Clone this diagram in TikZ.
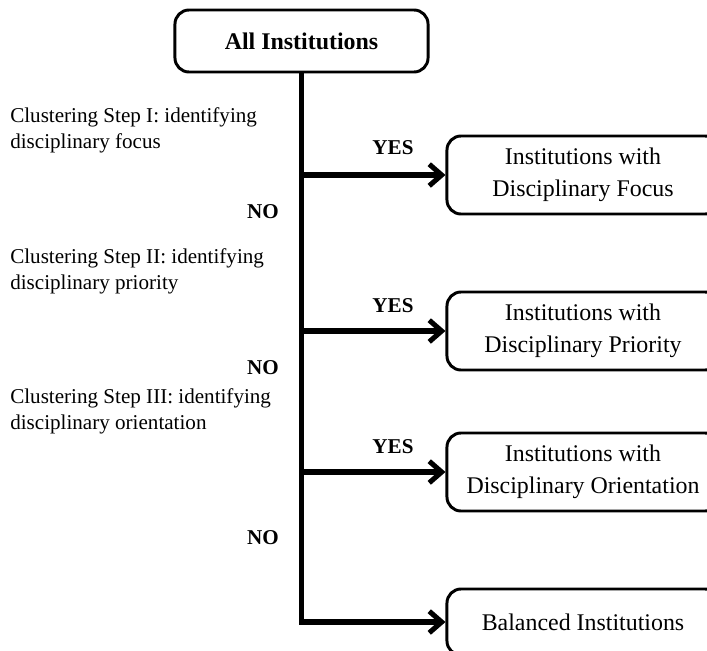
\documentclass[tikz,border=0pt]{standalone}
\usepackage{fontspec}
\setmainfont{Liberation Serif}
\usepackage{xcolor}
\usetikzlibrary{arrows.meta,positioning,calc}
\tikzset{
    % Base style for the boxes
    box base/.style={
        font=\fontsize{17}{22.7}\selectfont,
        align=center,
        text=black,
        draw=black,
        line width=2.1pt,
        rounded corners=10pt,
        inner sep=0pt,
    },
    % Top box - bold title
    rootbox/.style={
        box base,
        font=\fontsize{17}{22.7}\selectfont\bfseries,
        minimum width=6.325cm,
        minimum height=1.55cm,
    },
    % Result boxes on the right
    resultbox/.style={
        box base,
        minimum width=6.8cm,
        minimum height=1.95cm,
    },
    % Step descriptions on the left
    step note/.style={
        font=\fontsize{15}{18.5}\selectfont,
        align=left,
        anchor=west,
        inner sep=0pt,
    },
    % YES/NO labels
    edge label/.style={
        font=\fontsize{15}{18}\selectfont\bfseries,
        inner sep=0pt,
    },
    % Thick connectors with open tip
    arrow/.style={
        -{Straight Barb[length=3.1mm, width=5.4mm]},
        line width=3.6pt,
        draw=black,
    },
}
\begin{document}
\begin{tikzpicture}[x=0.025cm, y=-0.025cm]
    \useasboundingbox (0,0) rectangle (707,650);
    \clip (0,0) rectangle (707,650);

    \node (all) [rootbox] at (301.5,41) {All Institutions};
    \node (focus) [resultbox] at (583,175) {Institutions with\\Disciplinary Focus};
    \node (priority) [resultbox] at (583,331) {Institutions with\\Disciplinary Priority};
    \node (orient) [resultbox] at (583,472) {Institutions with\\Disciplinary Orientation};
    \node (balanced) [resultbox, minimum height=1.65cm] at (583,622) {Balanced Institutions};

    \node (step1) [step note] at (10,130) {Clustering Step I: identifying\\disciplinary focus};
    \node (step2) [step note] at (10,271) {Clustering Step II: identifying\\disciplinary priority};
    \node (step3) [step note] at (10,411) {Clustering Step III: identifying\\disciplinary orientation};

    \node (yes1) [edge label] at (393,148) {YES};
    \node (yes2) [edge label] at (393,306) {YES};
    \node (yes3) [edge label] at (393,447) {YES};
    \node (no1) [edge label] at (263,212) {NO};
    \node (no2) [edge label] at (263,368) {NO};
    \node (no3) [edge label] at (263,538) {NO};

    \coordinate (corner) at (all.south |- balanced.west);

    \draw [arrow] (all.south) -- (corner) -- (balanced.west);
    \draw [arrow] (all.south |- focus.west) -- (focus.west);
    \draw [arrow] (all.south |- priority.west) -- (priority.west);
    \draw [arrow] (all.south |- orient.west) -- (orient.west);
\end{tikzpicture}
\end{document}
